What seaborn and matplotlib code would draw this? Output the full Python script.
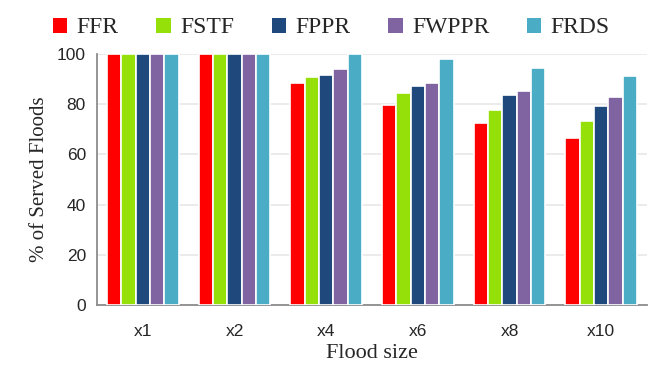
import matplotlib.pyplot as plt
import numpy as np
import pandas as pd
import seaborn as sns

# data
sizes = ['x1', 'x2', 'x4', 'x6', 'x8', 'x10']
methods = ['FFR', 'FSTF', 'FPPR', 'FWPPR', 'FRDS']
ffr = [100, 100, 88.6, 79.6, 72.4, 66.7]
fstf = [100, 100, 90.7, 84.3, 77.6, 73.2]
fppr = [100, 100, 91.8, 87.4, 83.8, 79.2]
fwppr = [100, 100, 94.2, 88.6, 85.3, 83.0]
frds = [100, 100, 100, 97.9, 94.6, 91.4]
colors = ['#FF0000', '#96E00A', '#1F497D', '#8064A2', '#4BACC6']

df = pd.DataFrame({'size': sizes, 'FFR': ffr, 'FSTF': fstf, 'FPPR': fppr,
                   'FWPPR': fwppr, 'FRDS': frds})
dfm = df.melt('size', var_name='method', value_name='served')

sns.set_style('white')
serif = ['Liberation Serif', 'DejaVu Serif']
sans = ['Liberation Sans', 'DejaVu Sans']

fig = plt.figure(figsize=(6.63, 3.78), dpi=100)
ax = fig.add_axes([97/663, 1-305/378, 550/663, 251/378])

sns.barplot(data=dfm, x='size', y='served', hue='method', order=sizes,
            hue_order=methods, palette=colors, width=0.78, saturation=1,
            edgecolor='white', linewidth=1.2, ax=ax, zorder=3)

ax.set_ylim(0, 100)
ax.set_xlim(-0.5, len(sizes) - 0.5)
ax.set_yticks(np.arange(0, 101, 20))
ax.yaxis.grid(True, color='#e8e8e8', linewidth=1.2, zorder=0)
ax.set_axisbelow(True)

for s in ['top', 'right']:
    ax.spines[s].set_visible(False)
for s in ['left', 'bottom']:
    ax.spines[s].set_color('#8c8c8c')
    ax.spines[s].set_linewidth(1.3)

ax.set_xticks(np.arange(-0.5, len(sizes)), minor=True)
ax.tick_params(axis='x', which='major', length=0, pad=14)
ax.tick_params(axis='x', which='minor', length=6, color='#8c8c8c', width=1.3, direction='out')
ax.tick_params(axis='y', length=5, color='#8c8c8c', width=1.3, direction='out', pad=3)
for lab in ax.get_xticklabels() + ax.get_yticklabels():
    lab.set_family(sans)
    lab.set_fontsize(12.5)

ax.set_xlabel('Flood size', family=serif, fontsize=16, labelpad=3)
ax.set_ylabel('% of Served Floods', family=serif, fontsize=15, labelpad=6)

handles, labels = ax.get_legend_handles_labels()
ax.get_legend().remove()
leg = fig.legend(handles, labels, loc='upper center', bbox_to_anchor=(0.5, 1.01),
                 ncol=5, frameon=False, handlelength=0.6, handleheight=0.6,
                 handletextpad=0.4, columnspacing=1.6,
                 prop={'family': serif, 'size': 17})
for h in leg.legend_handles:
    h.set_edgecolor('none')

fig.savefig('out.png', dpi=100)
